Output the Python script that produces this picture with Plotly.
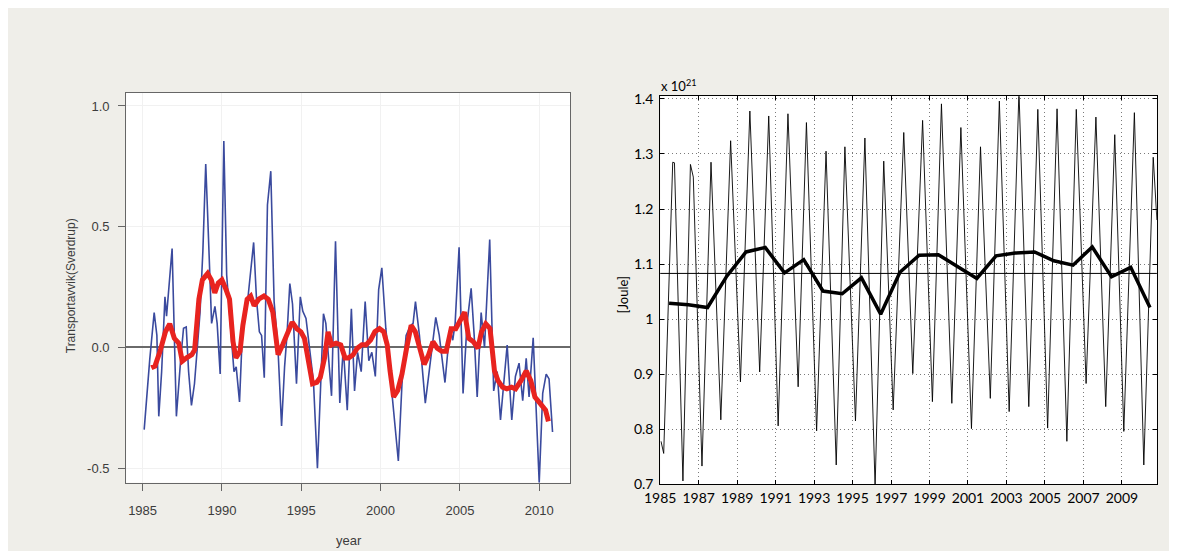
import plotly.graph_objects as go

# ---------------- Left panel data (transport anomaly, Sverdrup) ----------------
blue_year = [1985.10, 1985.25, 1985.45, 1985.73, 1985.90, 1986.02, 1986.20, 1986.41, 1986.51, 1986.86,
             1987.13, 1987.40, 1987.58, 1987.75, 1987.90, 1988.08, 1988.27, 1988.45, 1988.62, 1988.80,
             1988.98, 1989.10, 1989.35, 1989.56, 1989.70, 1989.89, 1990.12, 1990.30, 1990.45, 1990.62,
             1990.76, 1990.90, 1991.11, 1991.25, 1991.42, 1991.60, 1991.78, 1992.00, 1992.18, 1992.36,
             1992.50, 1992.67, 1992.87, 1993.08, 1993.29, 1993.53, 1993.76, 1993.95, 1994.10, 1994.28,
             1994.45, 1994.70, 1994.94, 1995.10, 1995.30, 1995.50, 1995.77, 1996.02, 1996.23, 1996.40,
             1996.55, 1996.91, 1997.16, 1997.43, 1997.65, 1997.90, 1998.16, 1998.36, 1998.55, 1998.78,
             1999.03, 1999.26, 1999.45, 1999.67, 1999.88, 2000.08, 2000.33, 2000.64, 2000.90, 2001.12,
             2001.35, 2001.61, 2001.88, 2002.05, 2002.20, 2002.45, 2002.82, 2003.05, 2003.25, 2003.48,
             2003.70, 2004.06, 2004.37, 2004.55, 2004.70, 2004.95, 2005.20, 2005.45, 2005.71, 2005.90,
             2006.09, 2006.34, 2006.55, 2006.88, 2007.13, 2007.35, 2007.56, 2007.78, 2007.98, 2008.27,
             2008.50, 2008.73, 2008.96, 2009.18, 2009.36, 2009.62, 2010.00, 2010.22, 2010.44, 2010.62,
             2010.84]
blue_val = [-0.34, -0.20, -0.05, 0.145, 0.05, -0.285, -0.10, 0.21, 0.13, 0.41,
            -0.285, -0.05, 0.08, 0.085, -0.10, -0.24, -0.15, 0.00, 0.145, 0.40,
            0.76, 0.55, 0.10, 0.17, 0.10, -0.11, 0.855, 0.30, 0.17, 0.05,
            -0.10, -0.08, -0.225, 0.00, 0.16, 0.18, 0.30, 0.435, 0.20, 0.065,
            0.05, -0.125, 0.59, 0.73, 0.19, 0.00, -0.325, -0.08, 0.05, 0.265,
            0.18, -0.15, 0.21, 0.15, 0.12, 0.00, -0.14, -0.50, -0.165, 0.14,
            0.10, -0.20, 0.44, -0.23, 0.00, -0.26, 0.16, -0.18, -0.02, -0.10,
            0.19, -0.055, -0.02, -0.12, 0.24, 0.33, 0.08, -0.14, -0.30, -0.47,
            -0.15, 0.05, 0.09, 0.10, 0.19, 0.05, -0.23, -0.10, 0.00, 0.125,
            0.05, -0.145, 0.08, 0.03, 0.10, 0.415, -0.19, 0.10, 0.245, 0.05,
            -0.205, 0.145, 0.00, 0.447, -0.18, -0.10, -0.30, -0.15, 0.01, -0.30,
            -0.12, -0.065, -0.22, -0.045, -0.205, 0.04, -0.56, -0.19, -0.11, -0.13,
            -0.35]

red_year = [1985.55, 1985.78, 1986.10, 1986.44, 1986.71, 1987.00, 1987.28, 1987.50, 1987.77, 1988.10,
            1988.28, 1988.55, 1988.77, 1989.10, 1989.33, 1989.55, 1989.77, 1990.00, 1990.26, 1990.48,
            1990.70, 1990.88, 1991.14, 1991.32, 1991.59, 1991.81, 1992.03, 1992.32, 1992.65, 1992.92,
            1993.21, 1993.54, 1993.83, 1994.16, 1994.43, 1994.72, 1994.98, 1995.20, 1995.49, 1995.71,
            1995.98, 1996.20, 1996.47, 1996.69, 1996.91, 1997.20, 1997.49, 1997.76, 1997.98, 1998.27,
            1998.53, 1998.82, 1999.09, 1999.37, 1999.64, 1999.93, 2000.20, 2000.42, 2000.60, 2000.82,
            2001.08, 2001.35, 2001.64, 2001.93, 2002.19, 2002.46, 2002.75, 2003.03, 2003.30, 2003.57,
            2003.86, 2004.14, 2004.45, 2004.74, 2005.03, 2005.30, 2005.56, 2005.85, 2006.14, 2006.36,
            2006.63, 2006.90, 2007.18, 2007.40, 2007.69, 2007.96, 2008.25, 2008.51, 2008.85, 2009.18,
            2009.47, 2009.73, 2010.07, 2010.40, 2010.58]
red_val = [-0.084, -0.077, -0.016, 0.065, 0.098, 0.038, 0.018, -0.057, -0.043, -0.030,
           -0.010, 0.200, 0.280, 0.307, 0.280, 0.226, 0.267, 0.280, 0.240, 0.200,
           0.024, -0.043, -0.016, 0.092, 0.200, 0.213, 0.173, 0.200, 0.213, 0.200,
           0.146, -0.030, 0.011, 0.065, 0.105, 0.078, 0.065, 0.038, -0.070, -0.150,
           -0.144, -0.124, -0.043, 0.065, 0.011, 0.018, 0.011, -0.043, -0.043, -0.030,
           -0.003, 0.011, 0.011, 0.031, 0.065, 0.078, 0.065, 0.011, -0.097, -0.205,
           -0.178, -0.110, -0.003, 0.092, 0.065, -0.003, -0.070, -0.030, 0.024, -0.003,
           -0.016, -0.016, 0.078, 0.078, 0.119, 0.146, 0.038, 0.024, -0.003, 0.065,
           0.098, 0.078, -0.097, -0.137, -0.164, -0.171, -0.164, -0.171, -0.137, -0.097,
           -0.137, -0.205, -0.232, -0.259, -0.306]

left_xticks = [1985, 1990, 1995, 2000, 2005, 2010]
left_yticks = [-0.5, 0.0, 0.5, 1.0]
left_yticktext = ["-0.5", "0.0", "0.5", "1.0"]

# ---------------- Right panel data (heat content, x10^21 Joule) ----------------
heat_year = [1985.04, 1985.18, 1985.65, 1985.74, 1986.18, 1986.57, 1986.72, 1987.17, 1987.64, 1988.15,
             1988.66, 1989.17, 1989.66, 1990.17, 1990.64, 1991.13, 1991.64, 1992.17, 1992.60, 1993.13,
             1993.62, 1994.15, 1994.60, 1995.15, 1995.64, 1996.17, 1996.62, 1997.11, 1997.66, 1998.13,
             1998.64, 1999.15, 1999.62, 2000.16, 2000.63, 2001.18, 2001.65, 2002.16, 2002.63, 2003.14,
             2003.65, 2004.16, 2004.63, 2005.14, 2005.63, 2006.14, 2006.63, 2007.14, 2007.65, 2008.16,
             2008.63, 2009.10, 2009.65, 2010.14, 2010.63, 2010.82]
heat_val = [0.778, 0.756, 1.285, 1.284, 0.706, 1.281, 1.258, 0.733, 1.285, 0.817,
            1.324, 0.886, 1.378, 0.904, 1.369, 0.806, 1.373, 0.877, 1.357, 0.797,
            1.305, 0.735, 1.313, 0.815, 1.329, 0.695, 1.287, 0.835, 1.339, 0.901,
            1.361, 0.850, 1.391, 0.847, 1.348, 0.801, 1.313, 0.856, 1.396, 0.832,
            1.415, 0.841, 1.381, 0.802, 1.382, 0.778, 1.381, 0.883, 1.367, 0.841,
            1.335, 0.796, 1.375, 0.735, 1.294, 1.180]

mean_year = [1985.46, 1986.46, 1987.46, 1988.46, 1989.46, 1990.46, 1991.46, 1992.46, 1993.46, 1994.46,
             1995.46, 1996.46, 1997.46, 1998.46, 1999.46, 2000.46, 2001.46, 2002.46, 2003.46, 2004.46,
             2005.46, 2006.46, 2007.46, 2008.46, 2009.46, 2010.46]
mean_val = [1.029, 1.026, 1.021, 1.078, 1.122, 1.130, 1.084, 1.108, 1.051, 1.046,
            1.075, 1.009, 1.085, 1.116, 1.117, 1.096, 1.074, 1.115, 1.120, 1.122,
            1.106, 1.098, 1.131, 1.077, 1.094, 1.021]
overall_mean = 1.083

right_xticks = [1985, 1987, 1989, 1991, 1993, 1995, 1997, 1999, 2001, 2003, 2005, 2007, 2009]
right_yticks = [0.7, 0.8, 0.9, 1.0, 1.1, 1.2, 1.3, 1.4]
right_yticktext = ["0.7", "0.8", "0.9", "1", "1.1", "1.2", "1.3", "1.4"]

W, H = 1177, 551
BG = "#efeee9"

fig = go.Figure()
fig.add_trace(go.Scatter(x=blue_year, y=blue_val, mode="lines",
                         line=dict(color="#3a4a9e", width=1.6), xaxis="x", yaxis="y",
                         showlegend=False, hoverinfo="skip"))
fig.add_trace(go.Scatter(x=red_year, y=red_val, mode="lines",
                         line=dict(color="#e8231f", width=5), xaxis="x", yaxis="y",
                         showlegend=False, hoverinfo="skip"))
fig.add_trace(go.Scatter(x=heat_year, y=heat_val, mode="lines",
                         line=dict(color="black", width=0.9), xaxis="x2", yaxis="y2",
                         showlegend=False, hoverinfo="skip"))
fig.add_trace(go.Scatter(x=mean_year, y=mean_val, mode="lines",
                         line=dict(color="black", width=3.5), xaxis="x2", yaxis="y2",
                         showlegend=False, hoverinfo="skip"))

left_font = dict(family="Liberation Sans, Arial, sans-serif", size=13, color="#3c3c3c")
right_font = dict(family="Lato, Open Sans, sans-serif", size=14, color="black")

fig.update_layout(
    width=W, height=H,
    margin=dict(l=0, r=0, t=0, b=0),
    paper_bgcolor=BG, plot_bgcolor="white",
    xaxis=dict(domain=[103.5 / W, 554 / W], range=[1983.96, 2011.97],
               tickvals=left_xticks, ticks="outside", ticklen=7, tickcolor="#666",
               showline=True, linecolor="#666", linewidth=1, mirror=True,
               showgrid=True, gridcolor="#f1f1f1", zeroline=False,
               tickfont=left_font, ticklabelstandoff=9, anchor="y"),
    yaxis=dict(domain=[1 - 481 / H, 1 - 80.7 / H], range=[-0.56, 1.055],
               tickvals=left_yticks, ticktext=left_yticktext, ticks="outside", ticklen=7,
               tickcolor="#666", showline=True, linecolor="#666", linewidth=1, mirror=True,
               showgrid=True, gridcolor="#f1f1f1",
               zeroline=True, zerolinecolor="#6a6a6a", zerolinewidth=1.5,
               tickfont=left_font, ticklabelstandoff=6, anchor="x"),
    xaxis2=dict(domain=[645 / W, 1148.5 / W], range=[1985, 2010.82],
                tickvals=right_xticks, ticks="inside", ticklen=4, tickcolor="black",
                showline=True, linecolor="black", linewidth=1, mirror="allticks",
                showgrid=True, gridcolor="#7a7a7a", griddash="1px,3px", gridwidth=1,
                zeroline=False, tickfont=right_font, ticklabelstandoff=1, anchor="y2"),
    yaxis2=dict(domain=[1 - 482.5 / H, 1 - 84.3 / H], range=[0.7, 1.405],
                tickvals=right_yticks, ticktext=right_yticktext, ticks="inside", ticklen=4,
                tickcolor="black", showline=True, linecolor="black", linewidth=1,
                mirror="allticks", showgrid=True, gridcolor="#7a7a7a", griddash="1px,3px",
                gridwidth=1, zeroline=False, tickfont=right_font, ticklabelstandoff=3,
                anchor="x2"),
    shapes=[dict(type="line", xref="x2 domain", yref="y2", x0=0, x1=1,
                 y0=overall_mean, y1=overall_mean, line=dict(color="black", width=1))],
    annotations=[
        dict(text="year", xref="paper", yref="paper", x=329 / W, y=1 - 540 / H,
             showarrow=False, font=left_font, xanchor="center", yanchor="middle"),
        dict(text="Transportavvik(Sverdrup)", xref="paper", yref="paper", x=48 / W,
             y=1 - 279 / H, showarrow=False, textangle=-90,
             font=dict(family="Liberation Sans, Arial, sans-serif", size=12, color="#3c3c3c"),
             xanchor="center", yanchor="middle"),
        dict(text="[Joule]", xref="paper", yref="paper", x=607 / W, y=1 - 288 / H,
             showarrow=False, textangle=-90, font=dict(family="Lato, sans-serif", size=13, color="black"),
             xanchor="center", yanchor="middle"),
        dict(text="x 10<sup>21</sup>", xref="paper", yref="paper", x=644 / W, y=1 - 73 / H,
             showarrow=False, font=dict(family="Lato, sans-serif", size=13, color="black"),
             xanchor="left", yanchor="middle"),
    ],
)

fig.write_html("out.html")
